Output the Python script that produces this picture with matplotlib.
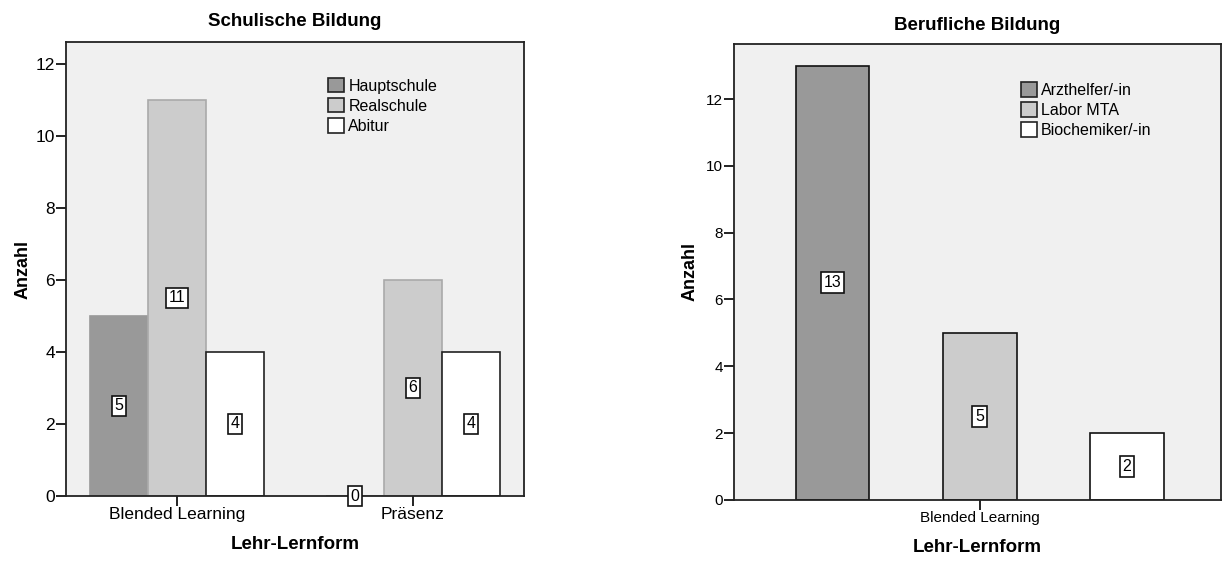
import matplotlib
matplotlib.use("Agg")
import matplotlib.pyplot as plt
from matplotlib.patches import Patch
import numpy as np

plt.rcParams['font.family'] = ['Liberation Sans', 'DejaVu Sans']

# ---- data ----
left_title = "Schulische Bildung"
left_groups = ["Blended Learning", "Präsenz"]
left_series = ["Hauptschule", "Realschule", "Abitur"]
left_values = {
    "Hauptschule": [5, 0],
    "Realschule": [11, 6],
    "Abitur": [4, 4],
}
left_yticks = [0, 2, 4, 6, 8, 10, 12]

right_title = "Berufliche Bildung"
right_groups = ["Blended Learning"]
right_series = ["Arzthelfer/-in", "Labor MTA", "Biochemiker/-in"]
right_values = [13, 5, 2]
right_yticks = [0, 2, 4, 6, 8, 10, 12]

xlabel = "Lehr-Lernform"
ylabel = "Anzahl"

fills = ["#999999", "#cccccc", "#ffffff"]
left_edges = ["#999999", "#aaaaaa", "#222222"]
bg = "#f0f0f0"

fig = plt.figure(figsize=(12.22, 5.63), dpi=100)

def style_axes(ax, tick_fs):
    ax.set_facecolor(bg)
    for s in ax.spines.values():
        s.set_linewidth(1.3)
        s.set_color("#222222")
    ax.tick_params(axis='both', direction='out', length=7.5, width=1.4,
                   color="#222222", labelsize=tick_fs, pad=0.5)

def value_label(ax, x, y, txt, fs):
    ax.text(x, y, txt, ha='center', va='center', fontsize=fs, clip_on=False,
            bbox=dict(boxstyle='square,pad=0.18', facecolor='white',
                      edgecolor='#111111', linewidth=1.2), zorder=5)

# ---- left chart ----
axL = fig.add_axes([0.054, 0.119, 0.3748, 0.806])
style_axes(axL, 12.5)
xg = np.arange(len(left_groups))
w = 0.2458
for i, s in enumerate(left_series):
    xs = xg + (i - 1) * w
    vals = left_values[s]
    axL.bar(xs, vals, width=w, color=fills[i], edgecolor=left_edges[i],
            linewidth=1.2, zorder=2)
    for x, v in zip(xs, vals):
        value_label(axL, x, v / 2, str(v), 11.5)
axL.set_xlim(-0.47, 1.47)
axL.set_ylim(0, 12.6)
axL.set_yticks(left_yticks)
axL.set_xticks(xg)
axL.set_xticklabels(left_groups)
axL.set_title(left_title, fontsize=13.5, fontweight='bold', pad=12)
axL.set_xlabel(xlabel, fontsize=13.5, fontweight='bold', labelpad=10)
axL.set_ylabel(ylabel, fontsize=13, fontweight='bold', labelpad=3)
hL = [Patch(facecolor=fills[i], edgecolor="#222222", linewidth=1.2, label=s)
      for i, s in enumerate(left_series)]
axL.legend(handles=hL, loc='upper left', bbox_to_anchor=(0.559, 0.935),
           frameon=False, fontsize=11.5, handlelength=1.0, handleheight=1.0,
           handletextpad=0.25, labelspacing=0.28, borderaxespad=0)

# ---- right chart ----
axR = fig.add_axes([0.6007, 0.112, 0.3985, 0.81])
style_axes(axR, 11)
xr = np.arange(len(right_series)) - 1
wr = 0.5
axR.bar(xr, right_values, width=wr, color=fills, edgecolor="#111111",
        linewidth=1.2, zorder=2)
for x, v in zip(xr, right_values):
    value_label(axR, x, v / 2, str(v), 11.5)
axR.set_xlim(-1.67, 1.64)
axR.set_ylim(0, 13.65)
axR.set_yticks(right_yticks)
axR.set_xticks([0])
axR.set_xticklabels(right_groups)
axR.set_title(right_title, fontsize=13.5, fontweight='bold', pad=10)
axR.set_xlabel(xlabel, fontsize=13.5, fontweight='bold', labelpad=10)
axR.set_ylabel(ylabel, fontsize=13, fontweight='bold', labelpad=5)
hR = [Patch(facecolor=fills[i], edgecolor="#222222", linewidth=1.2, label=s)
      for i, s in enumerate(right_series)]
axR.legend(handles=hR, loc='upper left', bbox_to_anchor=(0.576, 0.93),
           frameon=False, fontsize=11.5, handlelength=1.0, handleheight=1.0,
           handletextpad=0.25, labelspacing=0.28, borderaxespad=0)

fig.savefig("out.png", dpi=100)
